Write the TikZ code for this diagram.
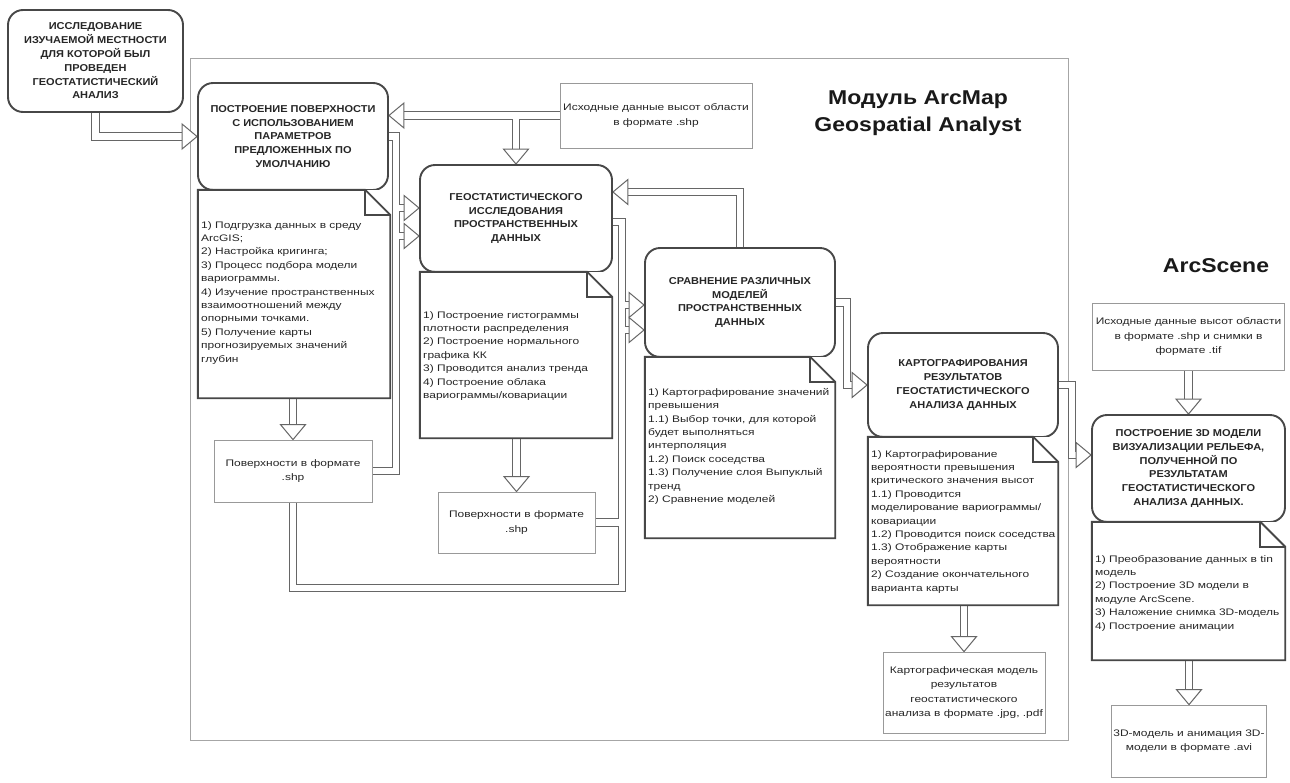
\documentclass[tikz,border=0pt]{standalone}
\usepackage{fontspec}
\setmainfont{Liberation Sans}
\newfontfamily\bxfont[FakeStretch=1.1]{Liberation Sans}
\newfontfamily\ntfont[FakeStretch=1.26]{Liberation Sans}
\newfontfamily\ttlfont[FakeStretch=1.15]{Liberation Sans}
\usetikzlibrary{calc}
\pgfdeclarelayer{bg}
\pgfsetlayers{bg,main}
\tikzset{
 rbox/.style={draw=black!72, line width=1.9pt, rounded corners=15pt, fill=white, align=center, inner sep=2pt, font=\bxfont\bfseries\fontsize{10}{13.8}\selectfont, text=black!85},
 nbox/.style={draw=none, fill=white, inner sep=0pt},
 ntext/.style={align=left, anchor=north west, inner sep=0pt, font=\ntfont\fontsize{9.5}{13.4}\selectfont, text=black!85},
 pbox/.style={draw=black!40, line width=0.8pt, fill=white, align=center, inner sep=2pt, font=\ntfont\fontsize{9.5}{14.5}\selectfont, text=black!85},
 nline/.style={draw=black!72, line width=1.9pt, line join=miter},
 frm/.style={draw=black!35, line width=1pt, inner sep=0pt},
 ttl/.style={align=center, font=\ttlfont\bfseries\fontsize{20}{27}\selectfont, text=black!90},
 shout/.style={draw=black!60, line width=8.5pt, shorten >=8pt, line join=miter},
 shin/.style={draw=white, line width=6.5pt, shorten >=8pt, line join=miter},
 hd/.style={draw=black!60, line width=1pt, fill=white, line join=miter},
 hR/.pic={\draw[hd] (0,0) -- (-15,-12.5) -- (-15,12.5) -- cycle;},
 hL/.pic={\draw[hd] (0,0) -- (15,-12.5) -- (15,12.5) -- cycle;},
 hD/.pic={\draw[hd] (0,0) -- (-12.5,-15) -- (12.5,-15) -- cycle;},
}
\newcommand\mynote[1]{%
 \draw[nline] (#1.north west) -- ($(#1.north east)+(-25,0)$) -- ($(#1.north east)+(0,25)$) -- (#1.south east) -- (#1.south west) -- cycle;
 \draw[nline] ($(#1.north east)+(-25,0)$) -- ++(0,25) -- ++(25,0);}
\newcommand\shafts[1]{%
 \draw[#1] (b1.south) |- (b2.west);
 \draw[#1] (src1.west) -- (b2.east |- src1.west);
 \draw[#1] (b5.north |- src1.west) -- (b5.north);
 \draw[#1] (b2.east) -| (k4) -- (k4 -| b5.west);
 \draw[#1] (s1.east) -| (k5) -- (k5 -| b5.west);
 \draw[#1, shorten >=0pt] (k4) -- (k5);
 \draw[#1] (k6a -| b5.east) -- (k6a) -- (k6) -- (k6 -| b9.west);
 \draw[#1] (s2.east) -| (k7) -- (k7 -| b9.west);
 \draw[#1] (s1.south) |- (k8) -- (k7) -- (k7 -| b9.west);
 \draw[#1, shorten >=0pt] (k6) -- (k7);
 \draw[#1] (b9.north) -- (k9) -- (k9 -| b5.east);
 \draw[#1] (b9.east) -| (k10) -- (b11.west);
 \draw[#1] (b11.east) -| (k11) -- (k11 -| b17.west);
 \draw[#1] (src2.south) -- (b17.north);
 \draw[#1] (fin.north |- n17.south) -- (fin.north);
 \draw[#1] (cart.north |- n11.south) -- (cart.north);
 \draw[#1] (s1.north |- n2.south) -- (s1.north);
 \draw[#1] (s2.north |- n5.south) -- (s2.north);}
\begin{document}
\begin{tikzpicture}[x=1pt,y=-1pt]
\useasboundingbox (0,0) rectangle (1290,782);
% nodes
\node[rbox, minimum width=175pt, minimum height=102pt] (b1) at (95.5,61) {ИССЛЕДОВАНИЕ\\ИЗУЧАЕМОЙ МЕСТНОСТИ\\ДЛЯ КОТОРОЙ БЫЛ\\ПРОВЕДЕН\\ГЕОСТАТИСТИЧЕСКИЙ\\АНАЛИЗ};
\node[rbox, minimum width=190pt, minimum height=107pt] (b2) at (293,136.5) {ПОСТРОЕНИЕ ПОВЕРХНОСТИ\\С ИСПОЛЬЗОВАНИЕМ\\ПАРАМЕТРОВ\\ПРЕДЛОЖЕННЫХ ПО\\УМОЛЧАНИЮ};
\node[nbox, minimum width=192pt, minimum height=208pt] (n2) at (294,294) {};
\mynote{n2}
\node[ntext] (n2t) at (201,221) {1) Подгрузка данных в среду\\ArcGIS;\\2) Настройка кригинга;\\3) Процесс подбора модели\\вариограммы.\\4) Изучение пространственных\\взаимоотношений между\\опорными точками.\\5) Получение карты\\прогнозируемых значений\\глубин};
\node[pbox, minimum width=192pt, minimum height=65pt] (src1) at (656,115.5) {Исходные данные высот области\\в формате .shp};
\node[rbox, minimum width=192pt, minimum height=107pt] (b5) at (516,218.5) {ГЕОСТАТИСТИЧЕСКОГО\\ИССЛЕДОВАНИЯ\\ПРОСТРАНСТВЕННЫХ\\ДАННЫХ};
\node[nbox, minimum width=192pt, minimum height=166pt] (n5) at (516,355) {};
\mynote{n5}
\node[ntext] (n5t) at (423,311) {1) Построение гистограммы\\плотности распределения\\2) Построение нормального\\графика КК\\3) Проводится анализ тренда\\4) Построение облака\\вариограммы/ковариации};
\node[pbox, minimum width=158pt, minimum height=62pt] (s1) at (293,471) {Поверхности в формате\\.shp};
\node[pbox, minimum width=157pt, minimum height=61pt] (s2) at (516.5,522.5) {Поверхности в формате\\.shp};
\node[rbox, minimum width=190pt, minimum height=109pt] (b9) at (740,302.5) {СРАВНЕНИЕ РАЗЛИЧНЫХ\\МОДЕЛЕЙ\\ПРОСТРАНСТВЕННЫХ\\ДАННЫХ};
\node[nbox, minimum width=190pt, minimum height=181pt] (n9) at (740,447.5) {};
\mynote{n9}
\node[ntext] (n9t) at (648,388) {1) Картографирование значений\\превышения\\1.1) Выбор точки, для которой\\будет выполняться\\интерполяция\\1.2) Поиск соседства\\1.3) Получение слоя Выпуклый\\тренд\\2) Сравнение моделей};
\node[rbox, minimum width=190pt, minimum height=104pt] (b11) at (963,385) {КАРТОГРАФИРОВАНИЯ\\РЕЗУЛЬТАТОВ\\ГЕОСТАТИСТИЧЕСКОГО\\АНАЛИЗА ДАННЫХ};
\node[nbox, minimum width=190pt, minimum height=168pt] (n11) at (963,521) {};
\mynote{n11}
\node[ntext] (n11t) at (871,450) {1) Картографирование\\вероятности превышения\\критического значения высот\\1.1) Проводится\\моделирование вариограммы/\\ковариации\\1.2) Проводится поиск соседства\\1.3) Отображение карты\\вероятности\\2) Создание окончательного\\варианта карты};
\node[pbox, minimum width=158pt, minimum height=81pt] (cart) at (964,692.5) {Картографическая модель\\результатов\\геостатистического\\анализа в формате .jpg, .pdf};
\node[ttl] (t1) at (918,113) {Модуль ArcMap\\Geospatial Analyst};
\node[ttl] (t2) at (1216,266) {ArcScene};
\node[pbox, minimum width=192pt, minimum height=67pt] (src2) at (1188.5,336.5) {Исходные данные высот области\\в формате .shp и снимки в\\формате .tif};
\node[rbox, minimum width=193pt, minimum height=107pt] (b17) at (1188.5,468.5) {ПОСТРОЕНИЕ 3D МОДЕЛИ\\ВИЗУАЛИЗАЦИИ РЕЛЬЕФА,\\ПОЛУЧЕННОЙ ПО\\РЕЗУЛЬТАТАМ\\ГЕОСТАТИСТИЧЕСКОГО\\АНАЛИЗА ДАННЫХ.};
\node[nbox, minimum width=193pt, minimum height=138pt] (n17) at (1188.5,591) {};
\mynote{n17}
\node[ntext] (n17t) at (1095,555) {1) Преобразование данных в tin\\модель\\2) Построение 3D модели в\\модуле ArcScene.\\3) Наложение снимка 3D-модель\\4) Построение анимации};
\node[pbox, minimum width=155pt, minimum height=72pt] (fin) at (1189,741) {3D-модель и анимация 3D-\\модели в формате .avi};
% bend points
\coordinate (k4) at (396,208);
\coordinate (k5) at (396,236);
\coordinate (k6a) at (622,222);
\coordinate (k6) at (622,305);
\coordinate (k7) at (622,330);
\coordinate (k8) at (622,588);
\coordinate (k9) at (740,192);
\coordinate (k10) at (847,385);
\coordinate (k11) at (1072,455);
\begin{pgfonlayer}{bg}
 \fill[white] (0,0) rectangle (1290,782);
 \node[frm, minimum width=878pt, minimum height=682pt] (frame) at (629,399) {};
 \shafts{shout}
 \shafts{shin}
 \pic at (b2.west) {hR};
 \pic at (b2.east |- src1.west) {hL};
 \pic at (b5.north) {hD};
 \pic at (k4 -| b5.west) {hR};
 \pic at (k5 -| b5.west) {hR};
 \pic at (k6 -| b9.west) {hR};
 \pic at (k7 -| b9.west) {hR};
 \pic at (k9 -| b5.east) {hL};
 \pic at (b11.west) {hR};
 \pic at (k11 -| b17.west) {hR};
 \pic at (b17.north) {hD};
 \pic at (fin.north) {hD};
 \pic at (cart.north) {hD};
 \pic at (s1.north) {hD};
 \pic at (s2.north) {hD};
\end{pgfonlayer}
\end{tikzpicture}
\end{document}
